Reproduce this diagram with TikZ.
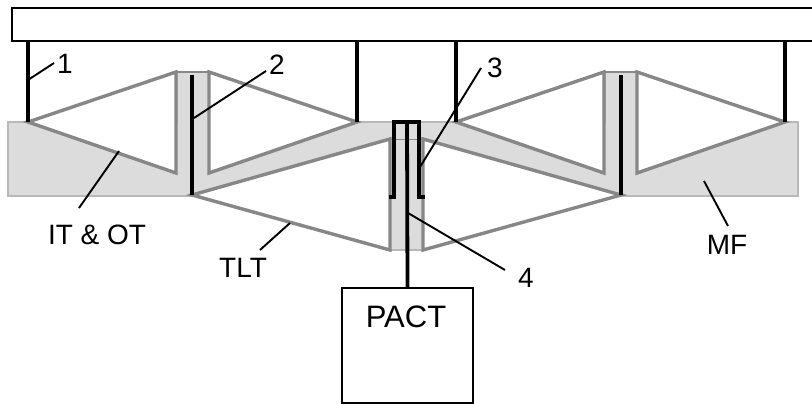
\documentclass[tikz,border=0pt]{standalone}
\usepackage{fontspec}
\setmainfont{Liberation Sans}
\definecolor{bandgray}{RGB}{220,220,220}
\definecolor{edgegray}{RGB}{135,135,135}
\tikzset{
  tag/.style={font=\fontsize{28}{28}\selectfont,inner sep=0pt},
  horn/.style={draw=edgegray,fill=white,line width=3.4pt,line join=miter},
  rod/.style={line width=3.8pt,black},
  lead/.style={line width=1.9pt,black},
}
\begin{document}
\begin{tikzpicture}[x=1pt,y=-1pt]
       \useasboundingbox (0,0) rectangle (812,404);
       \coordinate (R1) at (28,122);
       \coordinate (R2) at (357,122);
       \coordinate (R3) at (456,122);
       \coordinate (R4) at (785,122);
       \coordinate (S1) at (192,195);
       \coordinate (S2) at (621,195);
       \coordinate (F) at (407,122);

        \fill[bandgray,draw=black!28,line width=1.8pt](8,122)--(177,122)--(177,72)--(209,72)--(209,122)--(605,122)--(605,72)--(637,72)--(637,122)--(798,122)--(798,196)--(423,196)--(423,250)--(390,250)--(390,196)--(8,196)--cycle;
        \draw[edgegray,line width=1pt](390,139)--(423,139);
        \draw[edgegray,line width=1.8pt](177,72)--(209,72);
        \draw[edgegray,line width=1.8pt](605,72)--(637,72);

        \draw[horn](R1)--(176,72)--(176,173)--cycle;%upper horns
        \draw[horn](209,72)--(R2)--(209,173)--cycle;
        \draw[horn](R3)--(604,72)--(604,173)--cycle;
        \draw[horn](637,72)--(R4)--(637,173)--cycle;
        \draw[horn](S1)--(390,139)--(390,250)--cycle;%lower horns
        \draw[horn](S2)--(423,139)--(423,250)--cycle;

        \node[draw=black,line width=2pt,fill=white,minimum width=820pt,minimum height=33pt,anchor=north west,inner sep=0pt] (ring) at (11,7) {};
        \node[draw=black,line width=2pt,minimum width=131pt,minimum height=115pt,anchor=north west,inner sep=0pt] (pact) at (341,287) {};

        \draw[rod](R1|-ring.south)--(R1);
        \draw[rod](R2|-ring.south)--(R2);
        \draw[rod](R3|-ring.south)--(R3);
        \draw[rod](R4|-ring.south)--(R4);
        \draw[rod](192,75)--(S1);
        \draw[rod](621,75)--(S2);
        \draw[rod](F)--(pact.north);%center feed
        \draw[line width=3.4pt,black](389,197)--(394,197)--(394,122)--(419,122)--(419,197)--(425,197);

        \node[tag] (n1) at (65,64) {1};
        \node[tag] (n2) at (277,65) {2};
        \node[tag] (n3) at (495,68) {3};
        \node[tag] (n4) at (526,278) {4};
        \node[tag] (it) at (97,235) {IT \& OT};
        \node[tag] (tlt) at (243,268) {TLT};
        \node[tag,font=\fontsize{31}{31}\selectfont] (pt) at (406,317) {PACT};
        \node[tag] (mf) at (727,245) {MF};

        \draw[lead](28,80)--(54,63);
        \draw[lead](194,118)--(266,71);
        \draw[lead](420,167)--(481,68);
        \draw[lead](408,213)--(505,270);
        \draw[lead](119,151)--(79,208);
        \draw[lead](290,223)--(260,250);
        \draw[lead](704,181)--(728,226);
      \end{tikzpicture}
\end{document}
